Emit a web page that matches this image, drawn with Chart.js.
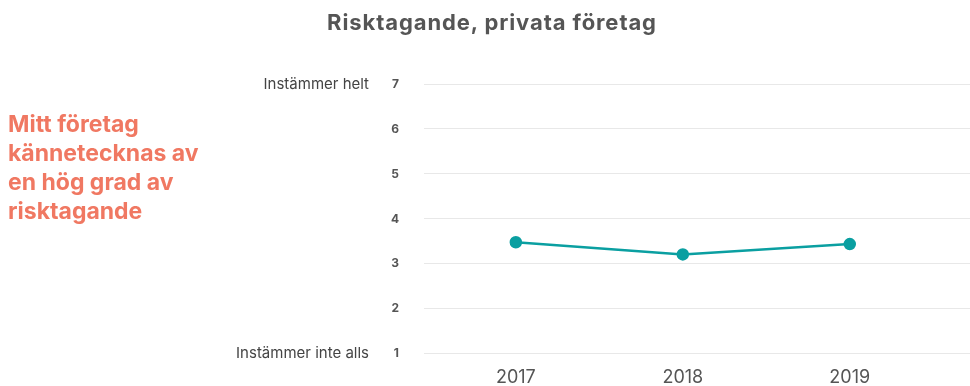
<!DOCTYPE html>
<html lang="sv">
<head>
<meta charset="utf-8">
<title>Risktagande, privata företag</title>
<script src="https://cdn.jsdelivr.net/npm/chart.js@4/dist/chart.umd.min.js"></script>
<style>
  html, body { margin: 0; padding: 0; background: #fff; }
  #wrap { position: relative; width: 970px; height: 386px; }
  #rubrik {
    position: absolute; left: 0; width: 984px; top: 9px;
    text-align: center;
    font: bold 22px/26px Inter, sans-serif;
    letter-spacing: 0.9px;
    color: #555;
  }
  #fraga {
    position: absolute; left: 8px; top: 110px;
    font: bold 23px/29px Inter, sans-serif;
    color: #f07862;
  }
</style>
</head>
<body>
<div id="wrap">
  <canvas id="graf" width="970" height="386"></canvas>
  <div id="rubrik">Risktagande, privata företag</div>
  <div id="fraga">Mitt företag<br>kännetecknas av<br>en hög grad av<br>risktagande</div>
</div>
<script>
const years = [2017, 2018, 2019];
const values = [3.48, 3.21, 3.44];
const scaleTicks = [1, 2, 3, 4, 5, 6, 7];
const scaleEnds = { 7: 'Instämmer helt', 1: 'Instämmer inte alls' };

// texter vid skalans ändpunkter
const endLabels = {
  id: 'endLabels',
  afterDraw(chart) {
    const y = chart.scales.y;
    const ctx = chart.ctx;
    ctx.save();
    ctx.font = '15px Inter, sans-serif';
    ctx.fillStyle = '#444';
    ctx.textAlign = 'right';
    ctx.textBaseline = 'middle';
    Object.keys(scaleEnds).forEach(v => {
      ctx.fillText(scaleEnds[v], 369, y.getPixelForValue(Number(v)));
    });
    ctx.restore();
  }
};

new Chart(document.getElementById('graf'), {
  type: 'line',
  data: {
    datasets: [{
      data: years.map((yr, i) => ({ x: yr, y: values[i] })),
      borderColor: '#0a9fa1',
      backgroundColor: '#0a9fa1',
      borderWidth: 2.5,
      pointRadius: 5,
      pointHoverRadius: 5,
      tension: 0
    }]
  },
  options: {
    responsive: false,
    animation: false,
    layout: { padding: { top: 84 }, autoPadding: false },
    plugins: {
      legend: { display: false },
      tooltip: { enabled: false }
    },
    scales: {
      x: {
        type: 'linear',
        min: 2016.45,
        max: 2019.72,
        afterBuildTicks: s => { s.ticks = years.map(v => ({ value: v })); },
        afterFit: s => { s.height = 31; },
        grid: { display: false, drawTicks: false },
        border: { display: false },
        ticks: {
          color: '#555',
          font: { family: 'Inter', size: 18 },
          padding: 13,
          maxRotation: 0,
          callback: v => String(v)
        }
      },
      y: {
        min: 1,
        max: 7,
        afterBuildTicks: s => { s.ticks = scaleTicks.map(v => ({ value: v })); },
        afterFit: s => { s.width = 424; },
        grid: { color: '#e8e8e8', drawTicks: false, lineWidth: 1 },
        border: { display: false },
        ticks: {
          color: '#555',
          font: { family: 'Inter', size: 12, weight: 'bold' },
          padding: 25
        }
      }
    }
  },
  plugins: [endLabels]
});
</script>
</body>
</html>
